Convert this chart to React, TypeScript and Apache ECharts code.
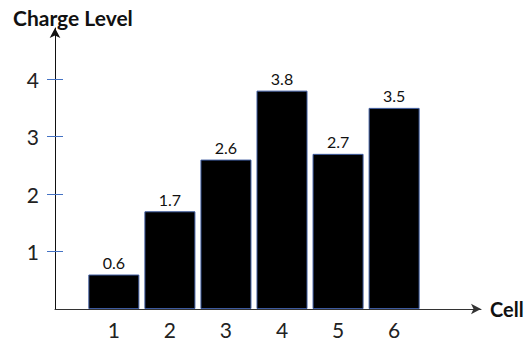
import React, { useEffect, useRef } from "react";
import * as echarts from "echarts";

const categories = ["1", "2", "3", "4", "5", "6"];
const values = [0.6, 1.7, 2.6, 3.8, 2.7, 3.5];
const yTicks = [1, 2, 3, 4];
const yAxisTitle = "Charge Level";
const xAxisTitle = "Cell";

export default function App() {
  const ref = useRef<HTMLDivElement>(null);
  useEffect(() => {
    if (!ref.current) return;
    const chart = echarts.init(ref.current, null, { renderer: "svg" });
    const xPositions = categories.map((_, i) => i + 1);
    const font = "Lato, 'Open Sans', sans-serif";
    const yCommon = {
      type: "value" as const,
      min: 0,
      max: 4.89,
      position: "left" as const,
      splitLine: { show: false },
    };
    chart.setOption({
      animation: false,
      backgroundColor: "#ffffff",
      title: {
        text: yAxisTitle,
        left: 8,
        top: 2,
        textStyle: { fontFamily: font, fontWeight: "bold", fontSize: 21, color: "#111" },
      },
      grid: { left: 55, right: 46, top: 28, bottom: 36 },
      xAxis: {
        type: "value",
        min: -0.05,
        max: 7.55,
        name: xAxisTitle,
        nameLocation: "end",
        nameGap: 9,
        nameTextStyle: { fontFamily: font, fontWeight: "bold", fontSize: 20, color: "#111", verticalAlign: "middle" },
        splitLine: { show: false },
        axisLine: {
          onZero: false,
          symbol: ["none", "arrow"],
          symbolSize: [8, 10],
          lineStyle: { color: "#333", width: 1 },
        },
        axisTick: { show: false },
        axisLabel: {
          customValues: xPositions,
          formatter: (v: number) => categories[Math.round(v) - 1] ?? "",
          fontFamily: font,
          fontSize: 21,
          color: "#222",
          margin: 10,
        },
      },
      yAxis: [
        {
          ...yCommon,
          axisLine: {
            show: true,
            onZero: false,
            symbol: ["none", "arrow"],
            symbolSize: [8, 10],
            lineStyle: { color: "#111", width: 1 },
          },
          axisTick: {
            show: true,
            customValues: yTicks,
            length: 8,
            lineStyle: { color: "#4472c4", width: 1 },
          },
          axisLabel: {
            customValues: yTicks,
            fontFamily: font,
            fontSize: 21,
            color: "#222",
            margin: 16,
          },
        },
        {
          ...yCommon,
          axisLine: { show: false, onZero: false },
          axisTick: {
            show: true,
            inside: true,
            customValues: yTicks,
            length: 8,
            lineStyle: { color: "#4472c4", width: 1 },
          },
          axisLabel: { show: false },
        },
      ],
      series: [
        {
          type: "bar",
          yAxisIndex: 0,
          barWidth: 51,
          data: values.map((v, i) => [xPositions[i], v]),
          itemStyle: { color: "#000", borderColor: "#3d5a9e", borderWidth: 1 },
          label: {
            show: true,
            position: "top",
            distance: 4,
            fontFamily: font,
            fontSize: 16,
            color: "#111",
            formatter: (p: any) => String(p.value[1]),
          },
        },
      ],
    });
    return () => chart.dispose();
  }, []);
  return <div ref={ref} style={{ position: "fixed", left: 0, top: 0, width: 527, height: 345 }} />;
}
